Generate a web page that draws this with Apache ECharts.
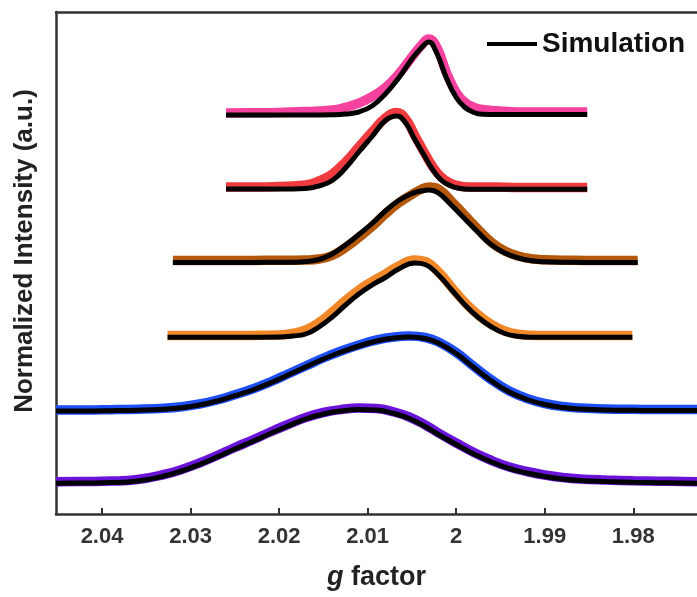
<!DOCTYPE html>
<html><head><meta charset="utf-8">
<script src="https://cdn.jsdelivr.net/npm/echarts@6/dist/echarts.min.js"></script>
<style>html,body{margin:0;padding:0;background:#fff}#c{width:697px;height:597px}</style>
</head><body><div id="c"></div>
<script>
const gTicks = [1.98, 1.99, 2.00, 2.01, 2.02, 2.03, 2.04];

// Spectrum 1 (pink)
const gPink = [2.0260, 2.0230, 2.0200, 2.0170, 2.0140, 2.0125, 2.0110, 2.0095, 2.0080, 2.0065, 2.0050, 2.0040, 2.0031, 2.0022, 2.0011, 2.0000, 1.9990, 1.9980, 1.9970, 1.9955, 1.9930, 1.9900, 1.9870, 1.9852];
const iPinkExp = [80.2, 80.24, 80.3, 80.5, 80.8, 81.34, 82.16, 83.46, 85.26, 88.0, 91.4, 93.6, 95.0, 93.4, 88.3, 84.3, 82.3, 81.34, 80.9, 80.66, 80.4, 80.4, 80.4, 80.4];
const iPinkSim = [79.8, 79.8, 79.8, 79.8, 79.86, 80.0, 80.4, 81.6, 84.0, 87.2, 91.0, 93.1, 94.4, 92.2, 87.2, 83.3, 81.3, 80.3, 79.94, 79.9, 79.9, 79.9, 79.9, 79.9];

// Spectrum 2 (red)
const gRed = [2.0260, 2.0230, 2.0200, 2.0170, 2.0155, 2.0140, 2.0125, 2.0110, 2.0095, 2.0080, 2.0067, 2.0057, 2.0047, 2.0037, 2.0027, 2.0017, 2.0007, 1.9997, 1.9985, 1.9955, 1.9930, 1.9900, 1.9870, 1.9852];
const iRedExp = [65.4, 65.4, 65.5, 65.8, 66.6, 68.0, 70.4, 73.4, 76.4, 79.2, 80.3, 79.0, 75.8, 72.6, 69.6, 67.4, 66.2, 65.6, 65.4, 65.4, 65.3, 65.3, 65.3, 65.3];
const iRedSim = [65.0, 65.0, 65.0, 65.1, 65.6, 66.7, 69.2, 72.4, 75.5, 78.7, 79.6, 78.2, 75.0, 72.0, 69.0, 66.8, 65.7, 65.14, 64.94, 64.94, 64.94, 64.94, 64.94, 64.94];

// Spectrum 3 (brown)
const gBrown = [2.0320, 2.0290, 2.0260, 2.0230, 2.0200, 2.0185, 2.0170, 2.0155, 2.0140, 2.0125, 2.0110, 2.0095, 2.0080, 2.0065, 2.0050, 2.0040, 2.0030, 2.0020, 2.0005, 1.9990, 1.9975, 1.9960, 1.9945, 1.9930, 1.9915, 1.9900, 1.9870, 1.9840, 1.9810, 1.9795];
const iBrownExp = [50.7, 50.7, 50.7, 50.72, 50.74, 50.76, 50.8, 51.0, 51.7, 53.3, 55.3, 57.5, 60.0, 62.2, 63.9, 64.9, 65.4, 65.0, 62.5, 59.7, 56.9, 54.3, 52.6, 51.6, 51.04, 50.84, 50.74, 50.7, 50.7, 50.7];
const iBrownSim = [50.3, 50.3, 50.3, 50.32, 50.34, 50.36, 50.5, 50.9, 52.0, 53.8, 55.9, 58.1, 60.6, 62.7, 64.1, 64.6, 64.8, 64.2, 61.7, 59.0, 56.3, 53.8, 52.2, 51.2, 50.64, 50.44, 50.34, 50.3, 50.3, 50.3];

// Spectrum 4 (orange)
const gOrange = [2.0326, 2.0290, 2.0260, 2.0230, 2.0200, 2.0185, 2.0170, 2.0155, 2.0140, 2.0125, 2.0110, 2.0095, 2.0080, 2.0065, 2.0047, 2.0035, 2.0020, 2.0005, 1.9990, 1.9975, 1.9960, 1.9945, 1.9930, 1.9915, 1.9900, 1.9870, 1.9840, 1.9810, 1.9801];
const iOrangeExp = [35.7, 35.7, 35.7, 35.72, 35.8, 36.1, 36.8, 38.3, 40.4, 42.7, 44.8, 46.5, 48.0, 49.6, 50.8, 50.5, 48.4, 45.3, 42.3, 39.8, 37.9, 36.6, 35.94, 35.74, 35.7, 35.7, 35.7, 35.7, 35.7];
const iOrangeSim = [35.34, 35.34, 35.34, 35.36, 35.4, 35.6, 36.0, 37.4, 39.4, 41.8, 44.0, 45.8, 47.3, 49.0, 50.2, 49.9, 47.8, 44.8, 41.8, 39.3, 37.4, 36.1, 35.54, 35.36, 35.34, 35.34, 35.34, 35.34, 35.34];

// Spectrum 5 (blue) and 6 (purple) share one g grid
const gWide = [2.0452, 2.0420, 2.0390, 2.0360, 2.0330, 2.0310, 2.0290, 2.0270, 2.0250, 2.0230, 2.0210, 2.0190, 2.0170, 2.0150, 2.0130, 2.0110, 2.0090, 2.0070, 2.0053, 2.0035, 2.0020, 2.0000, 1.9980, 1.9960, 1.9940, 1.9920, 1.9900, 1.9880, 1.9860, 1.9830, 1.9800, 1.9770, 1.9728];
const iBlueExp = [20.8, 20.8, 20.86, 20.96, 21.14, 21.44, 22.0, 22.8, 23.86, 25.0, 26.4, 28.0, 29.6, 31.2, 32.6, 33.8, 34.8, 35.4, 35.6, 35.3, 34.4, 32.3, 29.5, 26.8, 24.6, 23.1, 22.1, 21.5, 21.2, 21.0, 20.94, 20.9, 20.9];
const iBlueSim = [20.6, 20.6, 20.66, 20.76, 20.94, 21.24, 21.8, 22.6, 23.66, 24.8, 26.2, 27.8, 29.4, 31.0, 32.4, 33.6, 34.6, 35.2, 35.4, 35.1, 34.2, 32.1, 29.3, 26.6, 24.4, 22.9, 21.9, 21.3, 21.0, 20.8, 20.74, 20.7, 20.7];
const iPurpleExp = [6.44, 6.5, 6.58, 6.9, 7.9, 8.9, 10.2, 11.7, 13.3, 14.8, 16.4, 17.9, 19.3, 20.3, 20.9, 21.2, 21.1, 20.4, 19.4, 17.8, 16.2, 14.2, 12.3, 10.7, 9.4, 8.5, 7.8, 7.3, 7.0, 6.8, 6.66, 6.56, 6.44];
const iPurpleSim = [6.14, 6.2, 6.28, 6.6, 7.6, 8.6, 9.9, 11.4, 13.0, 14.5, 16.1, 17.6, 19.0, 20.0, 20.6, 20.9, 20.8, 20.1, 19.1, 17.5, 15.9, 13.9, 12.0, 10.4, 9.1, 8.2, 7.5, 7.0, 6.7, 6.5, 6.36, 6.26, 6.14];

const FONT = "'Liberation Sans', Arial, Helvetica, sans-serif";
const G_MIN = 1.9728, G_MAX = 2.0452;

function pts(g, i) { return g.map((v, k) => [v, i[k]]); }

const spectra = [
  { color: '#f5429f', g: gPink, iE: iPinkExp, iS: iPinkSim },
  { color: '#ef3b3f', g: gRed, iE: iRedExp, iS: iRedSim },
  { color: '#b4580c', g: gBrown, iE: iBrownExp, iS: iBrownSim },
  { color: '#f0882a', g: gOrange, iE: iOrangeExp, iS: iOrangeSim },
  { color: '#1e4ff5', g: gWide, iE: iBlueExp, iS: iBlueSim },
  { color: '#6b14d9', g: gWide, iE: iPurpleExp, iS: iPurpleSim }
];

const series = [];
spectra.forEach(s => {
  series.push({
    type: 'line', data: pts(s.g, s.iE), showSymbol: false, smooth: 0.45,
    lineStyle: { color: s.color, width: 9.5 }, itemStyle: { color: s.color }, silent: true
  });
  series.push({
    name: 'Simulation', type: 'line', data: pts(s.g, s.iS), showSymbol: false, smooth: 0.45,
    lineStyle: { color: '#000', width: 5 }, itemStyle: { color: '#000' }
  });
});

const chart = echarts.init(document.getElementById('c'), null, { renderer: 'canvas' });
chart.setOption({
  animation: false,
  backgroundColor: '#fff',
  grid: { left: 56, right: 0, top: 12, bottom: 83, show: false },
  legend: {
    data: ['Simulation'], left: 487, top: 30, padding: 0, icon: 'rect',
    itemWidth: 50, itemHeight: 4,
    textStyle: { fontSize: 28, fontWeight: 'bold', color: '#111', fontFamily: FONT }
  },
  graphic: [{
    type: 'text', x: 25, y: 251, rotation: Math.PI / 2,
    style: { text: 'Normalized Intensity (a.u.)', fontSize: 26, fontWeight: 'bold', fill: '#222', fontFamily: FONT, align: 'center', verticalAlign: 'middle' }
  }],
  xAxis: [{
    type: 'value', inverse: true, min: G_MIN, max: G_MAX, position: 'bottom',
    axisLine: { show: true, onZero: false, lineStyle: { color: '#333', width: 2.5 } },
    axisTick: { show: true, inside: true, length: 6, lineStyle: { color: '#333', width: 2 }, customValues: gTicks },
    axisLabel: { customValues: gTicks, formatter: v => String(+(+v).toFixed(2)), fontSize: 22, fontWeight: 'bold', color: '#333', margin: 12, fontFamily: FONT },
    splitLine: { show: false },
    name: '{i|g} factor', nameLocation: 'middle', nameGap: 50,
    nameTextStyle: { fontSize: 27, fontWeight: 'bold', color: '#222', fontFamily: FONT,
      rich: { i: { fontStyle: 'italic', fontSize: 27, fontWeight: 'bold', color: '#222', fontFamily: FONT } } }
  }, {
    type: 'value', inverse: true, min: G_MIN, max: G_MAX, position: 'top',
    axisLine: { show: true, onZero: false, lineStyle: { color: '#333', width: 2.5 } },
    axisTick: { show: false }, axisLabel: { show: false }, splitLine: { show: false }
  }],
  yAxis: {
    type: 'value', min: 0, max: 100.4,
    axisLine: { show: true, onZero: false, lineStyle: { color: '#333', width: 2.5 } },
    axisTick: { show: false }, axisLabel: { show: false }, splitLine: { show: false }
  },
  series: series
});
</script></body></html>
